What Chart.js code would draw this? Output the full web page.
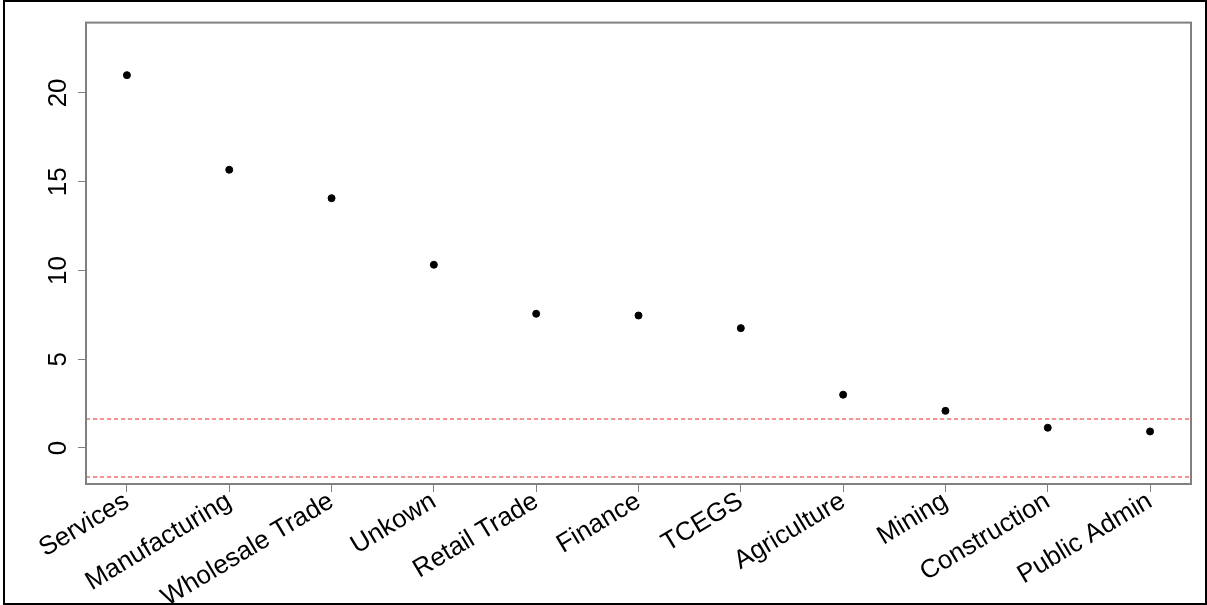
<!DOCTYPE html>
<html>
<head>
<meta charset="utf-8">
<script src="https://cdn.jsdelivr.net/npm/chart.js@4/dist/chart.umd.min.js"></script>
<style>
    html, body { margin: 0; padding: 0; background: #fff; }
    #frame {
        position: absolute;
        left: 3px;
        top: 0px;
        width: 1200px;
        height: 601px;
        border: 2px solid #000;
    }
    canvas { display: block; }
</style>
</head>
<body>
<div id="frame"><canvas id="chartSektor" width="1200" height="601"></canvas></div>
<script>
// Data
const categories = [
    "Services", "Manufacturing", "Wholesale Trade", "Unkown", "Retail Trade",
    "Finance", "TCEGS", "Agriculture", "Mining", "Construction", "Public Admin",
];
const values = [21.0, 15.67, 14.07, 10.32, 7.56, 7.46, 6.75, 3.0, 2.09, 1.14, 0.93];
const yTicks = [0, 5, 10, 15, 20];
const cutoffs = [1.645, -1.645];

const axisGrey = "#808080";
const fontFamily = "'Liberation Sans', Arial, sans-serif";

// Kotak plot (seperti box() di R) + garis putus-putus merah
const boxPlugin = {
    id: "boxPlugin",
    afterDatasetsDraw(chart) {
        const { ctx, chartArea, scales } = chart;
        ctx.save();
        ctx.strokeStyle = "rgb(255, 40, 40)";
        ctx.globalAlpha = 0.7;
        ctx.lineWidth = 1.5;
        ctx.setLineDash([4, 3]);
        cutoffs.forEach((c) => {
            const y = Math.round(scales.y.getPixelForValue(c));
            ctx.beginPath();
            ctx.moveTo(chartArea.left, y);
            ctx.lineTo(chartArea.right, y);
            ctx.stroke();
        });
        ctx.globalAlpha = 1;
        ctx.setLineDash([]);
        ctx.strokeStyle = axisGrey;
        ctx.lineWidth = 2;
        ctx.strokeRect(
            chartArea.left,
            chartArea.top,
            chartArea.right - chartArea.left,
            chartArea.bottom - chartArea.top,
        );
        ctx.restore();
    },
};

const ctx = document.getElementById("chartSektor").getContext("2d");

new Chart(ctx, {
    type: "scatter",
    data: {
        datasets: [
            {
                label: "Sektor",
                data: values.map((v, i) => ({ x: i + 1, y: v })),
                backgroundColor: "#000",
                borderColor: "#000",
                pointRadius: 3.5,
                pointHoverRadius: 3.5,
            },
        ],
    },
    options: {
        responsive: false,
        animation: false,
        layout: { padding: { top: 17, right: 14, left: 0, bottom: 0 } },
        scales: {
            x: {
                type: "linear",
                min: 0.6,
                max: categories.length + 0.4,
                afterBuildTicks: (scale) => {
                    scale.ticks = categories.map((c, i) => ({ value: i + 1 }));
                },
                afterFit: (scale) => {
                    scale.height = 119;
                },
                ticks: {
                    color: "#000",
                    minRotation: 31,
                    maxRotation: 31,
                    autoSkip: false,
                    padding: -6,
                    font: { family: fontFamily, size: 26 },
                    callback: (value) => categories[value - 1],
                },
                grid: {
                    drawOnChartArea: false,
                    drawTicks: true,
                    tickLength: 8,
                    color: axisGrey,
                },
                border: { display: false },
            },
            y: {
                min: -2.03,
                max: 23.96,
                afterBuildTicks: (scale) => {
                    scale.ticks = yTicks.map((v) => ({ value: v }));
                },
                afterFit: (scale) => {
                    scale.width = 81;
                },
                ticks: {
                    color: "#000",
                    minRotation: 90,
                    maxRotation: 90,
                    crossAlign: "center",
                    padding: 5,
                    font: { family: fontFamily, size: 26 },
                },
                grid: {
                    drawOnChartArea: false,
                    drawTicks: true,
                    tickLength: 8,
                    color: axisGrey,
                },
                border: { display: false },
            },
        },
        plugins: {
            legend: { display: false },
            tooltip: { enabled: false },
        },
    },
    plugins: [boxPlugin],
});
</script>
</body>
</html>
